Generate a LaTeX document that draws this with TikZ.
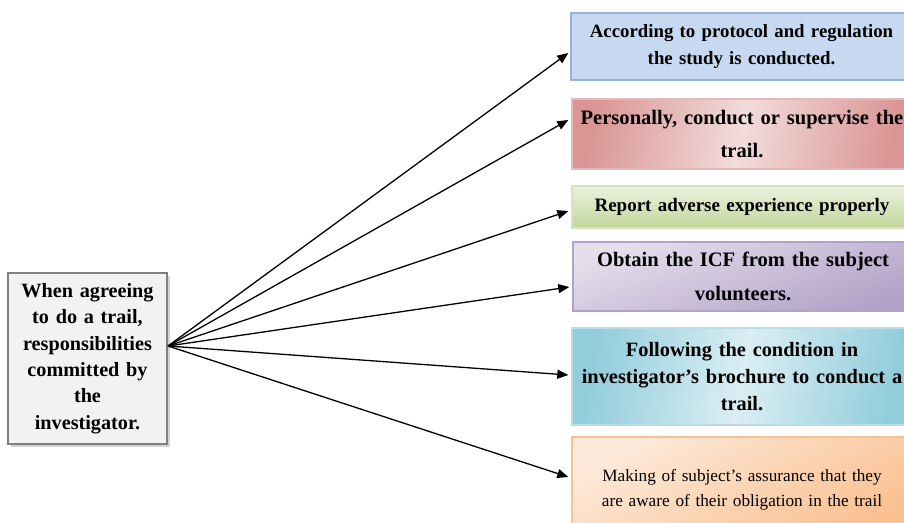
\documentclass[tikz,border=0pt]{standalone}
\usepackage{fontspec}
\setmainfont{Liberation Serif}
\usepackage{xcolor}
\usetikzlibrary{arrows.meta,calc,positioning,shadows}

\definecolor{protfill}{HTML}{C6D9F1}
\definecolor{protline}{HTML}{95B3D7}
\definecolor{persdark}{HTML}{D99694}
\definecolor{perslight}{HTML}{F2DCDB}
\definecolor{persline}{HTML}{E6B9B8}
\definecolor{repdark}{HTML}{C3D69B}
\definecolor{replight}{HTML}{EBF1DE}
\definecolor{repline}{HTML}{D7E4BD}
\definecolor{icfdark}{HTML}{B2A2C7}
\definecolor{icflight}{HTML}{E5DFEC}
\definecolor{icfline}{HTML}{B3A2C7}
\definecolor{brodark}{HTML}{92CDDC}
\definecolor{brolight}{HTML}{DAEEF3}
\definecolor{broline}{HTML}{B7DDE8}
\definecolor{assdark}{HTML}{FAC090}
\definecolor{asslight}{HTML}{FDE9D9}
\definecolor{assline}{HTML}{FAC090}

\tikzset{
  respbox/.style={draw, line width=0.8pt, align=center, inner sep=0.05cm,
    text width=6.7cm, font=\bfseries},
  resparrow/.style={-{Triangle[length=0.22cm,width=0.18cm]}, line width=0.026cm},
}

\begin{document}
\begin{tikzpicture}
                        \useasboundingbox (0,0) rectangle (18.08,10.44);

                        % Marking the investigator box
                        \node (inv) at (1.75,3.27) [draw=black!50, fill=black!5, line width=0.8pt,
                          minimum width=3.18cm, minimum height=3.42cm, text width=3.0cm, align=center,
                          inner sep=0.05cm, font=\bfseries\fontsize{11.5}{15}\selectfont,
                          drop shadow={shadow xshift=0.06cm, shadow yshift=-0.06cm, opacity=0.35}]
                          {When agreeing\\to do a trail,\\responsibilities\\committed by\\the\\investigator.};%
                        \coordinate (src) at (3.36,3.52);%

                        % Marking box protocol
                        \node (prot) at (14.83,9.51) [respbox, draw=protline, fill=protfill,
                          minimum width=6.82cm, minimum height=1.34cm, font=\bfseries\fontsize{10.7}{15}\selectfont]
                          {According to protocol and regulation\\the study is conducted.};%

                        % Marking box personally
                        \node (pers) at (14.84,7.76) [respbox, draw=persline, left color=persdark,
                          right color=persdark, middle color=perslight, shading angle=80,
                          minimum width=6.80cm, minimum height=1.40cm, font=\bfseries\fontsize{11.7}{18.9}\selectfont]
                          {Personally, conduct or supervise the\\trail.};%

                        % Marking box report
                        \node (rep) at (14.84,6.30) [respbox, draw=repline, top color=replight, bottom color=repdark,
                          minimum width=6.80cm, minimum height=0.84cm, font=\bfseries\fontsize{10.8}{14}\selectfont]
                          {Report adverse experience properly};%

                        % Marking box icf
                        \node (icf) at (14.86,4.91) [respbox, draw=icfline, top color=icflight, bottom color=icfdark,
                          shading angle=20,
                          minimum width=6.76cm, minimum height=1.38cm, font=\bfseries\fontsize{11.7}{19.8}\selectfont]
                          {Obtain the ICF from the subject\\volunteers.};%

                        % Marking box brochure
                        \node (bro) at (14.84,2.91) [respbox, draw=broline, left color=brodark,
                          right color=brodark, middle color=brolight, shading angle=80,
                          minimum width=6.80cm, minimum height=1.94cm, font=\bfseries\fontsize{11.6}{15.6}\selectfont]
                          {Following the condition in\\investigator’s brochure to conduct a\\trail.};%

                        % Marking box assurance
                        \node (ass) at (14.84,0.65) [respbox, draw=assline, left color=asslight, right color=assdark,
                          shading angle=30,
                          minimum width=6.80cm, minimum height=2.10cm, font=\fontsize{9.8}{14.2}\selectfont]
                          {Making of subject’s assurance that they\\are aware of their obligation in the trail};%

                        % Drawing arrows src to boxes
                        \draw [resparrow] (src) -- ($(prot.west)+(-0.04,-0.13)$);%
                        \draw [resparrow] (src) -- ($(pers.west)+(-0.06,0.28)$);%
                        \draw [resparrow] (src) -- ($(rep.west)+(-0.06,-0.08)$);%
                        \draw [resparrow] (src) -- ($(icf.west)+(-0.06,-0.21)$);%
                        \draw [resparrow] (src) -- ($(bro.west)+(-0.06,0.03)$);%
                        \draw [resparrow] (src) -- ($(ass.west)+(-0.06,0.25)$);%
                    \end{tikzpicture}
\end{document}
